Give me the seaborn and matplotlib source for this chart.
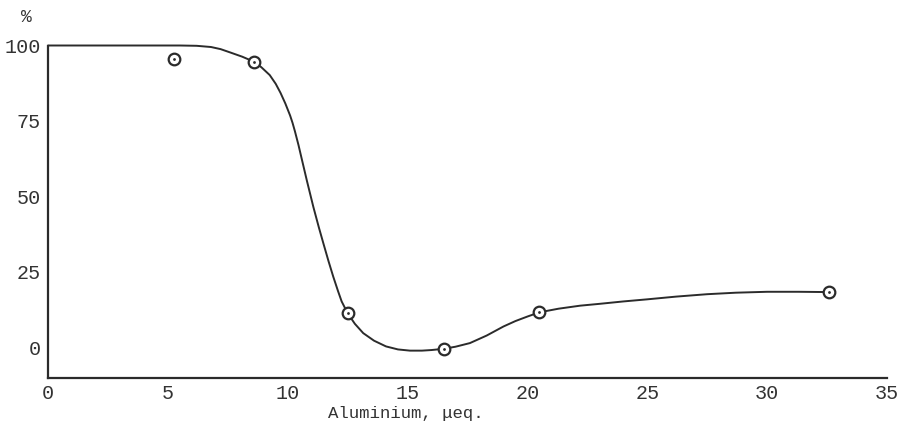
import matplotlib
matplotlib.use("Agg")
import matplotlib.pyplot as plt
import seaborn as sns
import pandas as pd

# Measured points (aluminium added, µeq. vs. per cent)
point_x = [5.25, 8.6, 12.5, 16.5, 20.5, 32.6]
point_y = [95.5, 94.5, 11.3, -0.5, 11.6, 18.3]

# Hand-drawn smoothed trend through the measurements
curve_x = [0, 5.5, 6.2, 6.8, 7.2, 7.6, 8.1, 8.6, 8.9, 9.25, 9.5, 9.7, 9.9,
           10.1, 10.2, 10.3, 10.45, 10.58, 10.8, 11.07, 11.3, 11.5, 11.7,
           11.9, 12.1, 12.25, 12.5, 12.8, 13.15, 13.6, 14.1, 14.6, 15.1,
           15.6, 16.0, 16.5, 17.0, 17.6, 18.3, 19.0, 19.5, 20.0, 20.5,
           21.3, 22.2, 23.0, 24.0, 25.0, 26.2, 27.5, 28.7, 30.0, 31.3, 32.6]
curve_y = [100, 100, 99.9, 99.5, 98.8, 97.7, 96.3, 94.6, 92.8, 90.2, 87.3,
           84.3, 80.8, 76.8, 74.4, 71.6, 67.0, 62.6, 55.2, 46.5, 39.7, 34.1,
           28.6, 23.4, 18.6, 15.2, 11.3, 7.8, 4.7, 2.2, 0.3, -0.7, -1.1,
           -1.1, -0.9, -0.5, 0.2, 1.4, 3.9, 6.9, 8.7, 10.2, 11.6,
           12.8, 13.8, 14.4, 15.2, 15.9, 16.8, 17.6, 18.1, 18.4, 18.4, 18.3]

x_ticks = [0, 5, 10, 15, 20, 25, 30, 35]
y_ticks = [0, 25, 50, 75, 100]

sns.set_style("white")
plt.rcParams["font.family"] = ["Liberation Mono", "DejaVu Sans Mono"]

ink = "#2b2b2b"
fig = plt.figure(figsize=(9.04, 4.29), dpi=100)
ax = fig.add_axes([48 / 904, 1 - 377.5 / 429, (887 - 48) / 904, (377.5 - 45.5) / 429])

curve = pd.DataFrame({"x": curve_x, "y": curve_y})
points = pd.DataFrame({"x": point_x, "y": point_y})

sns.lineplot(data=curve, x="x", y="y", ax=ax, color=ink, linewidth=1.4,
             sort=False, clip_on=False)
sns.scatterplot(data=points, x="x", y="y", ax=ax, s=70, marker="o",
                facecolor="white", edgecolor=ink, linewidth=1.6, zorder=3,
                clip_on=False)
sns.scatterplot(data=points, x="x", y="y", ax=ax, s=4, marker="o",
                color=ink, linewidth=0, zorder=4, clip_on=False)

ax.set_xlim(0, 35)
ax.set_ylim(-10, 100)
ax.set_xticks(x_ticks)
ax.set_yticks(y_ticks)
ax.set_xticklabels([str(t) for t in x_ticks], fontsize=14.5, color="#333333")
ax.set_yticklabels([str(t) for t in y_ticks], fontsize=14.5, color="#333333")
ax.tick_params(axis="both", direction="in", length=5, width=1.2, colors=ink,
               labelcolor="#333333", pad=5)

for side in ("top", "right"):
    ax.spines[side].set_visible(False)
for side in ("left", "bottom"):
    ax.spines[side].set_color(ink)
    ax.spines[side].set_linewidth(1.6)

ax.set_ylabel("")
ax.set_xlabel("Aluminium, \u03bceq.", fontsize=12.5, color="#333333")
ax.xaxis.set_label_coords(0.427, -0.085)

fig.text(26 / 904, 1 - 17 / 429, "%", fontsize=13, color="#333333",
         ha="center", va="center")

fig.savefig("out.png", dpi=100, facecolor="white")
